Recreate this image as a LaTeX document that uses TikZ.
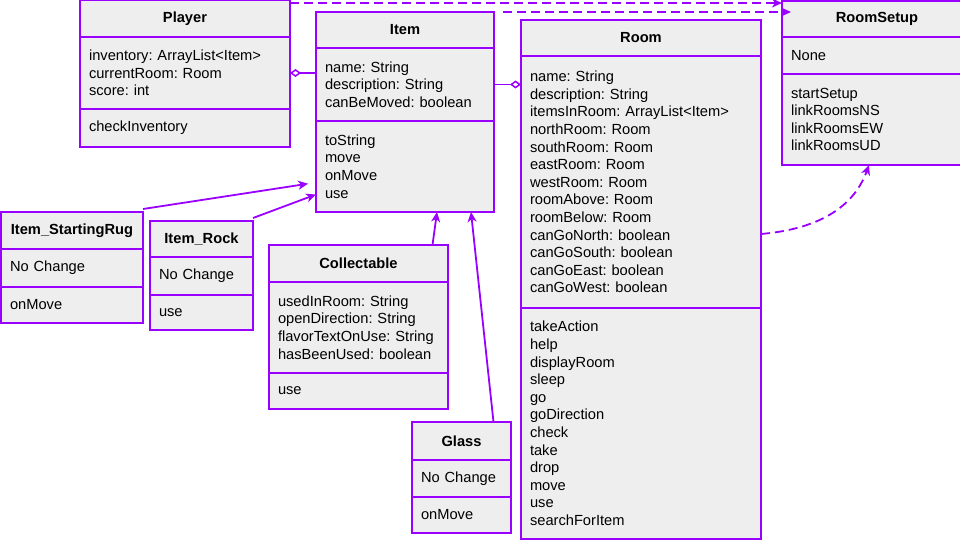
\documentclass[tikz,border=0pt]{standalone}
\usepackage{fontspec}
\setmainfont{Liberation Sans}
\usetikzlibrary{positioning,arrows.meta}
\definecolor{umlviolet}{HTML}{9900FF}
\definecolor{umlgrey}{HTML}{EEEEEE}
\frenchspacing
\begin{document}
\begin{tikzpicture}[
    x=1pt, y=-1pt,
    font=\fontsize{14.67}{17.6}\selectfont,
    classpart/.style={rectangle, draw=umlviolet, fill=umlgrey, line width=1.8pt,
        text width=#1, inner xsep=9pt, inner ysep=0pt, outer sep=0pt, align=left,
        anchor=north west},
    classname/.style={classpart=#1, align=center,
        font=\fontsize{14.67}{17.6}\selectfont\bfseries},
    inherits/.style={draw=umlviolet, line width=1.8pt,
        -{Stealth[length=10pt, width=9pt, inset=3pt]}},
    aggregates/.style={draw=umlviolet, line width=1.8pt,
        {Diamond[open, length=11pt, width=8pt, line width=1.5pt]}-},
    uses/.style={draw=umlviolet, line width=1.8pt, dash pattern=on 9pt off 5pt,
        -{Stealth[length=10pt, width=9pt, inset=3pt]}}
]
\useasboundingbox (0,0) rectangle (960,540);
\clip (0,0) rectangle (960,540);

\node (Player) [classname=192pt, minimum height=37pt] at (80,0) {Player};
\node (PlayerAttr) [classpart=192pt, minimum height=72pt, below=0pt of Player]
  {inventory: ArrayList<Item>\\currentRoom: Room\\score: int};
\node (PlayerOps) [classpart=192pt, minimum height=38pt, below=0pt of PlayerAttr]
  {checkInventory};

\node (Item) [classname=160pt, minimum height=36pt] at (316,12) {Item};
\node (ItemAttr) [classpart=160pt, minimum height=73pt, below=0pt of Item]
  {name: String\\description: String\\canBeMoved: boolean};
\node (ItemOps) [classpart=160pt, minimum height=91pt, below=0pt of ItemAttr]
  {toString\\move\\onMove\\use};

\node (Room) [classname=222pt, minimum height=36pt] at (521,20) {Room};
\node (RoomAttr) [classpart=222pt, minimum height=252pt, below=0pt of Room]
  {name: String\\description: String\\itemsInRoom: ArrayList<Item>\\northRoom: Room\\
   southRoom: Room\\eastRoom: Room\\westRoom: Room\\roomAbove: Room\\roomBelow: Room\\
   canGoNorth: boolean\\canGoSouth: boolean\\canGoEast: boolean\\canGoWest: boolean};
\node (RoomOps) [classpart=222pt, minimum height=231pt, below=0pt of RoomAttr]
  {takeAction\\help\\displayRoom\\sleep\\go\\goDirection\\check\\take\\drop\\move\\
   use\\searchForItem};

\node (RoomSetup) [classname=172pt, minimum height=36pt] at (782,1) {RoomSetup};
\node (RoomSetupAttr) [classpart=172pt, minimum height=37pt, below=0pt of RoomSetup]
  {None};
\node (RoomSetupOps) [classpart=172pt, minimum height=91pt, below=0pt of RoomSetupAttr]
  {startSetup\\linkRoomsNS\\linkRoomsEW\\linkRoomsUD};

\node (Rug) [classname=124pt, minimum height=37pt] at (1,212) {Item\_StartingRug};
\node (RugAttr) [classpart=124pt, minimum height=38pt, below=0pt of Rug] {No Change};
\node (RugOps) [classpart=124pt, minimum height=36pt, below=0pt of RugAttr] {onMove};

\node (Rock) [classname=85pt, minimum height=36pt] at (150,221) {Item\_Rock};
\node (RockAttr) [classpart=85pt, minimum height=38pt, below=0pt of Rock] {No Change};
\node (RockOps) [classpart=85pt, minimum height=35pt, below=0pt of RockAttr] {use};

\node (Collectable) [classname=161pt, minimum height=37pt] at (269,245) {Collectable};
\node (CollectableAttr) [classpart=161pt, minimum height=91pt, below=0pt of Collectable]
  {usedInRoom: String\\openDirection: String\\flavorTextOnUse: String\\hasBeenUsed: boolean};
\node (CollectableOps) [classpart=161pt, minimum height=36pt, below=0pt of CollectableAttr]
  {use};

\node (Glass) [classname=81pt, minimum height=38pt] at (412,422) {Glass};
\node (GlassAttr) [classpart=81pt, minimum height=37pt, below=0pt of Glass] {No Change};
\node (GlassOps) [classpart=81pt, minimum height=36pt, below=0pt of GlassAttr] {onMove};

\draw[aggregates] (PlayerAttr.east) -- (PlayerAttr.east -| ItemAttr.west);
\draw[aggregates] (ItemAttr.east -| RoomAttr.west) -- (ItemAttr.east);
\draw[uses] ([yshift=-3pt]Player.north east) -- ([yshift=-3pt]Player.north east -| RoomSetup.west);
\draw[uses] ([xshift=9pt]Item.north east) -- ([xshift=9pt]Item.north east -| RoomSetup.west);
\draw[uses] ([yshift=-52pt]RoomAttr.east) to[out=5, in=-110] ([xshift=-8pt]RoomSetupOps.south);
\draw[inherits, shorten >=8pt] ([yshift=3pt]Rug.north east) -- ([yshift=-16pt]ItemOps.west);
\draw[inherits] ([yshift=3pt]Rock.north east) -- ([yshift=-28pt]ItemOps.west);
\draw[inherits] ([xshift=74pt]Collectable.north) -- ([xshift=32pt]ItemOps.south);
\draw[inherits] ([xshift=32pt]Glass.north) -- ([xshift=66pt]ItemOps.south);
\end{tikzpicture}
\end{document}
